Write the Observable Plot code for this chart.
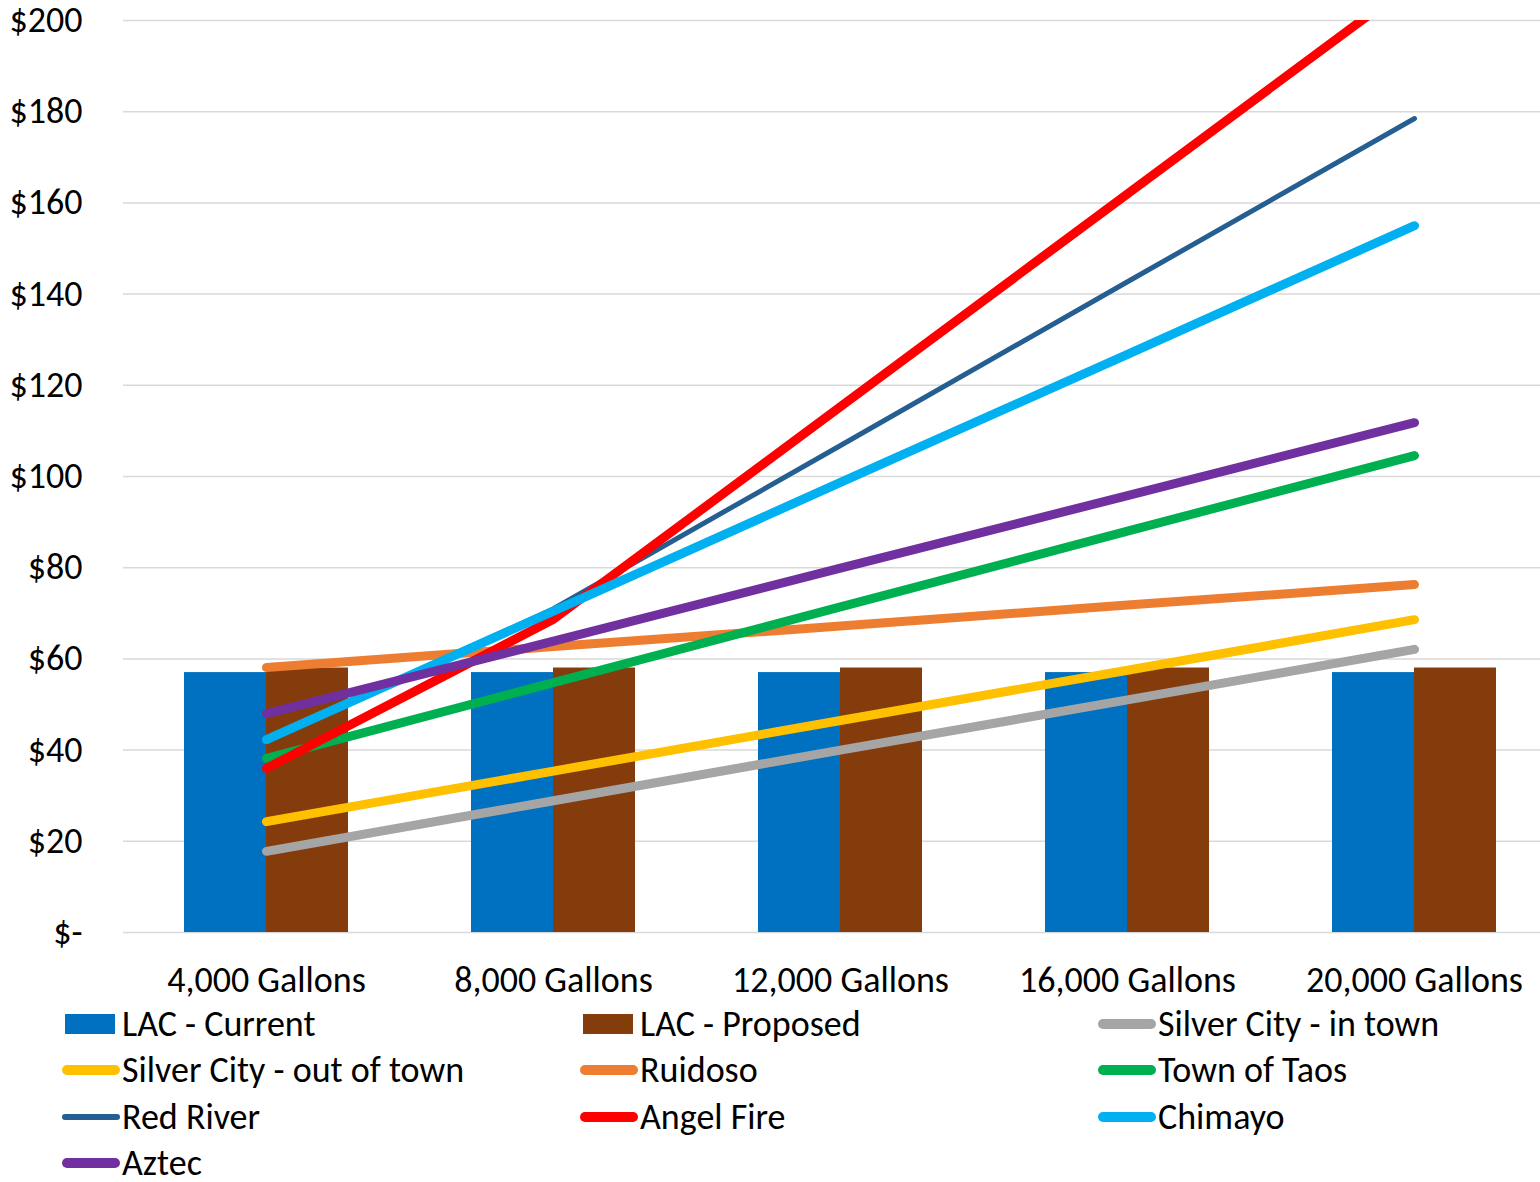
<!DOCTYPE html>
<html>
<head>
<meta charset="utf-8">
<script src="https://cdn.jsdelivr.net/npm/d3@7"></script>
<script src="https://cdn.jsdelivr.net/npm/@observablehq/plot@0.6"></script>
<style>
  html, body { margin: 0; padding: 0; background: #fff; overflow: hidden; }
  body { width: 1540px; height: 1182px; font-family: Carlito, Calibri, Lato, sans-serif; }
  #chart svg { display: block; }
  #legend { position: relative; display: grid; grid-template-columns: 518px 518px 504px; padding-left: 61px; margin-top: -9px; }
  .item { display: flex; align-items: center; height: 46.3px; font-size: 36px; color: #000; white-space: nowrap; }
  .item svg { flex: none; margin-right: 1px; }
</style>
</head>
<body>
<div id="chart"></div>
<div id="legend"></div>
<script>
const categories = ["4,000 Gallons", "8,000 Gallons", "12,000 Gallons", "16,000 Gallons", "20,000 Gallons"];
const yTicks = [0, 20, 40, 60, 80, 100, 120, 140, 160, 180, 200];

const lacCurrent = [57, 57, 57, 57, 57];
const lacProposed = [58, 58, 58, 58, 58];

const silverCityInTown = [17.8, 28.9, 40.0, 51.0, 62.1];
const silverCityOutOfTown = [24.3, 35.4, 46.5, 57.5, 68.6];
const ruidoso = [58.1, 62.7, 67.2, 71.8, 76.3];
const townOfTaos = [38.2, 54.8, 71.4, 88.0, 104.6];
const redRiver = [42.0, 71.0, 106.8, 142.7, 178.5];
const angelFire = [36.0, 68.7, 115.3, 162.0, 208.6];
const chimayo = [42.3, 70.5, 98.7, 126.8, 155.0];
const aztec = [48.0, 63.9, 79.9, 95.8, 111.8];

const barSeries = [
  {name: "LAC - Current", values: lacCurrent, color: "#0070C0", dx: -41},
  {name: "LAC - Proposed", values: lacProposed, color: "#843C0C", dx: 41}
];
const lineSeries = [
  {name: "Silver City - in town", values: silverCityInTown, color: "#A5A5A5", width: 9},
  {name: "Silver City - out of town", values: silverCityOutOfTown, color: "#FFC000", width: 9},
  {name: "Ruidoso", values: ruidoso, color: "#ED7D31", width: 9},
  {name: "Town of Taos", values: townOfTaos, color: "#00B050", width: 9},
  {name: "Red River", values: redRiver, color: "#255E91", width: 5},
  {name: "Angel Fire", values: angelFire, color: "#FF0000", width: 9},
  {name: "Chimayo", values: chimayo, color: "#00B0F0", width: 9},
  {name: "Aztec", values: aztec, color: "#7030A0", width: 9}
];

const rows = s => categories.map((c, i) => ({category: c, value: s.values[i], series: s.name}));

const marks = [
  Plot.gridY(yTicks, {stroke: "#D9D9D9", strokeOpacity: 1, strokeWidth: 1.5}),
  ...barSeries.map(s => Plot.barY(rows(s), {x: "category", y: "value", fill: s.color, dx: s.dx})),
  ...lineSeries.map(s => Plot.line(rows(s), {
    x: "category", y: "value", stroke: s.color, strokeWidth: s.width,
    strokeLinecap: "round", strokeLinejoin: "round", clip: true
  })),
  Plot.axisY(yTicks, {tickSize: 0, tickPadding: 41, fontSize: 36, fill: "#000",
    tickFormat: d => d === 0 ? "$-" : "$" + d}),
  Plot.axisX({tickSize: 0, tickPadding: 34, fontSize: 36, fill: "#000"})
];

const chart = Plot.plot({
  width: 1540,
  height: 1010,
  marginTop: 20,
  marginBottom: 78,
  marginLeft: 123,
  marginRight: 0,
  style: {fontFamily: "Carlito, Calibri, Lato, sans-serif", fontSize: "36px", color: "#000", background: "#fff", overflow: "visible"},
  x: {type: "band", domain: categories, range: [123, 1558], paddingInner: 0.714, paddingOuter: 0.357, align: 0.5, label: null},
  y: {domain: [0, 200], label: null},
  marks
});
document.getElementById("chart").appendChild(chart);

// Legend
const legend = document.getElementById("legend");
const ns = "http://www.w3.org/2000/svg";
const items = [...barSeries.map(s => ({...s, kind: "bar"})), ...lineSeries.map(s => ({...s, kind: "line"}))];
for (const it of items) {
  const div = document.createElement("div");
  div.className = "item";
  const svg = document.createElementNS(ns, "svg");
  svg.setAttribute("width", 60);
  svg.setAttribute("height", 20);
  if (it.kind === "bar") {
    const r = document.createElementNS(ns, "rect");
    r.setAttribute("x", 4); r.setAttribute("y", 0);
    r.setAttribute("width", 50); r.setAttribute("height", 20);
    r.setAttribute("fill", it.color);
    svg.appendChild(r);
  } else {
    const l = document.createElementNS(ns, "line");
    const w = it.width === 5 ? 6 : 10;
    l.setAttribute("x1", w / 2 + 1); l.setAttribute("x2", 60 - w / 2 - 1);
    l.setAttribute("y1", 10); l.setAttribute("y2", 10);
    l.setAttribute("stroke", it.color);
    l.setAttribute("stroke-width", w);
    l.setAttribute("stroke-linecap", "round");
    svg.appendChild(l);
  }
  div.appendChild(svg);
  const span = document.createElement("span");
  span.textContent = it.name;
  div.appendChild(span);
  legend.appendChild(div);
}
</script>
</body>
</html>
